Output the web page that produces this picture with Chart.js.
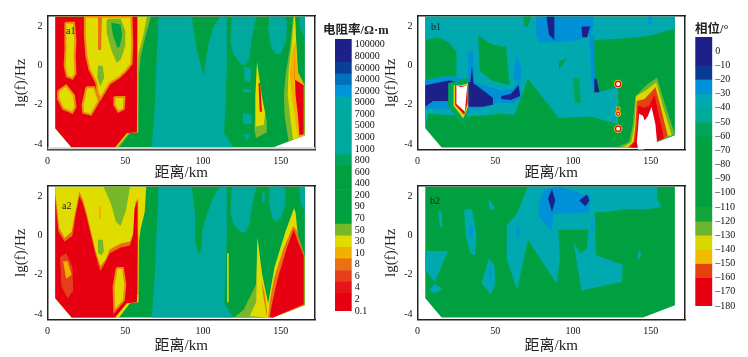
<!DOCTYPE html>
<html>
<head>
<meta charset="utf-8">
<script src="https://cdn.jsdelivr.net/npm/chart.js@4/dist/chart.umd.min.js"></script>
<style>
html, body { margin: 0; padding: 0; background: #fff; }
#page { position: relative; width: 748px; height: 357px; overflow: hidden; filter: blur(0.45px); }
canvas { position: absolute; }
.note { position: absolute; font-family: "Liberation Serif", serif; color: #222; white-space: nowrap; }
.head { font: bold 12.5px "Liberation Serif", "Noto Sans CJK SC", serif; color: #222; position: absolute; white-space: nowrap; }
</style>
</head>
<body>
<div id="page">
  <canvas id="a1"></canvas>
  <canvas id="a2"></canvas>
  <canvas id="b1"></canvas>
  <canvas id="b2"></canvas>
  <canvas id="resBar"></canvas>
  <canvas id="phaseBar"></canvas>
  <div class="head" style="left:323px;top:19px">电阻率/Ω·m</div>
  <div class="head" style="left:695px;top:18px">相位/°</div>
  <div class="note" style="left:66px;top:25px;font-size:10px">a1</div>
  <div class="note" style="left:62px;top:200px;font-size:10px">a2</div>
  <div class="note" style="left:431px;top:21px;font-size:10px">b1</div>
  <div class="note" style="left:430px;top:195px;font-size:10px">b2</div>
</div>
<script>
// colour bar labels and colours (bottom to top)
var resLabels = ['0.1', '2', '4', '6', '8', '10', '30', '50', '70', '90', '200', '400', '600', '800', '1000', '3000', '5000', '7000', '9000', '20000', '40000', '60000', '80000', '100000'];
var resColors = ['#e60012', '#e60012', '#e61416', '#e6401a', '#ea7014', '#f2b000', '#e0dc00', '#76b82a', '#00a23c', '#00a040', '#00a040', '#00a040', '#00a040', '#00a55c', '#00a99d', '#00a99d', '#00a99d', '#00a99d', '#00a9a5', '#0095d9', '#0072bc', '#0b3f95', '#1d2088', '#1d2088'];
var phaseEdges = [10, -10, -20, -30, -40, -50, -60, -110, -120, -130, -140, -150, -160, -180];
var phaseColors = ['#1d2088', '#0a3a92', '#0090d8', '#00a8b0', '#00aa9a', '#00a55a', '#00a040', '#12a63a', '#6cb430', '#d8d800', '#f0bc00', '#e64010', '#e60012'];

var blank = 'none';

// shared outline of the sounding coverage, km / lg f
var domain = [[5, 2.5], [165.5, 2.5], [165.5, -3.55], [145, -4.18], [15.5, -4.18], [11, -3.75], [5, -3.2]];

// ---- a1, resistivity
var a1Teal = [[71.4, 2.5], [92.8, 2.5], [96, 0.8], [100.3, -0.5], [103.5, 1.1], [106.8, 2], [111, 2.5], [115.3, 2.5], [115.3, 0], [114.5, -2], [113.6, -3.45], [119.6, -4.18], [67, -4.18], [69, -2], [70, 0]];
var a1Blob1 = [[118.5, 2.5], [117.5, 1.2], [119.5, 0.6], [124, 0.1], [127, 0], [130, 0.4], [131, 1.2], [132.5, 1.9], [134.5, 2.5]];
var a1Blob2 = [[142.5, 2.5], [142, 1.8], [144, 0.9], [147, 0.6], [150, 0.6], [153.5, 1.3], [154, 2.2], [152.5, 2.5]];
var a1Blob3 = [[161.7, 2.5], [165.5, 2.5], [165.5, 1.4], [163, 1.8]];
var a1Fleck1 = [[126, -0.05], [131, -0.1], [130.5, -0.8], [127, -0.8]];
var a1Fleck2 = [[125, -1.2], [131, -1.2], [130, -1.35], [126, -1.35]];
var a1Fleck3 = [[125.5, -2.4], [131, -2.5], [131.5, -2.95], [126, -3]];
var a1Fleck4 = [[126, -3.5], [130.5, -3.5], [128, -3.85]];
var a1Outer = [[5, 2.5], [66.5, 2.5], [63, 1.5], [60, 0.5], [58.8, -0.5], [58.5, -3.4], [53, -3.45], [46, -4.18], [15.5, -4.18], [11, -3.75], [5, -3.2]];
var a1Yellow = [[5, 2.5], [64, 2.5], [61.5, 1.5], [58.5, 0.6], [58, -0.5], [58, -3.4], [52, -3.45], [44.5, -4.18], [15.5, -4.18], [11, -3.75], [5, -3.2]];
var a1Red = [[5, 2.5], [57.8, 2.5], [57.5, -3.4], [51, -3.45], [43.5, -4.18], [15.5, -4.18], [11, -3.75], [5, -3.2]];
var a1Isle1 = [[11.5, 2.2], [17, 2.2], [18, 1.3], [17.5, 0.5], [18, -0.4], [16, -0.65], [12.5, -0.55], [11, 0], [11.7, 1]];
var a1Isle2 = [[24, 2.5], [54, 2.5], [54.5, 1], [54, 0.1], [50, -0.3], [46, -0.6], [40, -0.9], [37, -1.3], [34, -1.7], [32, -1.3], [31.5, -0.9], [29, -0.5], [27, -0.2], [25, 0.5], [24, 1.5]];
var a1Stripe = [[32.5, 2.5], [35, 2.5], [34.5, 1.5], [34.5, 0.8], [33, 0.8]];
var a1Light = [[38, 2.3], [39, 2.4], [47, 2.4], [50, 1.8], [50, 1], [47, 0.3], [44.5, 0.15], [41, 0.8], [38, 1.7]];
var a1Core = [[41, 2.2], [47, 2.1], [48, 1.6], [46.5, 1], [45, 0.9], [42, 1.6]];
var a1Small = [[32.5, 0], [35.5, 0], [36.5, -0.6], [34, -1.05], [32, -0.6]];
var a1Isle3 = [[6.8, -1.3], [12, -1], [17, -1.5], [18, -2.1], [16, -2.4], [10, -2.2], [7, -1.7]];
var a1Isle4 = [[25, -1.1], [30, -1.1], [33, -1.8], [28, -2.5], [23, -2.4], [22.5, -2]];
var a1Isle5 = [[43, -1.6], [49.5, -1.6], [49, -2.2], [45.5, -2.35], [43, -2]];
var a1SpikeG = [[135, -0.5], [137, -1.5], [141, -2.8], [141, -3.4], [134, -3.7], [133, -3.2]];
var a1SpikeY = [[134.7, 0.2], [133.6, -1.6], [133.8, -3.1], [139, -3.03], [140, -2.43], [137.9, -1.6]];
var a1SpikeR = [[135.7, -0.9], [136.7, -0.9], [137.9, -2.35], [136.5, -2.35]];
var a1Right1 = [[158, 2.5], [156, 1], [153, -0.5], [152, -1.5], [152.5, -2.6], [155, -3.85], [165.5, -3.55], [165.5, -1], [161, -0.3], [160, 1.2], [159, 2.5]];
var a1Right2 = [[158.5, 2.5], [157, 1], [155, -0.3], [154.5, -1.5], [156, -2.6], [158, -3.8], [165.2, -3.55], [165, -1], [161, -0.4], [160, 1], [159.2, 2.5]];
var a1Right3 = [[157.5, 0.8], [155.7, -0.3], [157, -1.5], [159, -2.6], [161, -3.7], [165, -3.55], [165, -1], [160.5, -0.3], [159.5, 1.3]];
var a1Right4 = [[158.5, 0.8], [159, -0.7], [164.7, -1], [164.7, -3.5], [162, -3.55], [161, -2.5], [159.5, -1.5]];
var a1Shapes = [domain, a1Teal, a1Blob1, a1Blob2, a1Blob3, a1Fleck1, a1Fleck2, a1Fleck3, a1Fleck4, a1Outer, a1Yellow, a1Red, a1Isle1, a1Isle2, a1Stripe, a1Light, a1Core, a1Small, a1Isle3, a1Isle4, a1Isle5, a1SpikeG, a1SpikeY, a1SpikeR, a1Right1, a1Right2, a1Right3, a1Right4];
var a1Levels = ['200', '3000', '3000', '3000', '3000', '3000', '3000', '3000', '3000', '50', '30', '2', '30', '30', '8', '50', '70', '50', '30', '30', '30', '50', '30', '2', '50', '30', '10', '2'];
// pale strip along the bottom of a1
var a1Strip = [[0, -4.17], [172, -4.17], [172, -4.28], [0, -4.28]];

// ---- a2, resistivity
var a2Teal = [[71.4, 2.5], [92.8, 2.5], [95, 1], [95, -0.3], [97, -1], [99, -0.6], [99.5, 0.3], [103, 1.2], [106.8, 2], [111, 2.5], [115.3, 2.5], [115.3, 0], [114.5, -2], [113.6, -3.45], [119.6, -4.18], [67, -4.18], [69, -2], [70, 0]];
var a2Blob1 = [[118.5, 2.5], [117.5, 1.2], [119.5, 0.6], [124, 0.2], [127, 0.15], [130, 0.6], [131, 1.2], [132.5, 1.9], [134.5, 2.5]];
var a2Blob2 = [[142.5, 2.5], [142.5, 1.6], [144.5, 0.9], [147, 0.7], [150, 0.9], [153, 1.6], [153, 2.3], [152, 2.5]];
var a2Blob3 = [[138, 2.2], [140, 2.2], [139.5, 1.7], [138.5, 1.7]];
var a2Blob4 = [[161.7, 2.5], [165.5, 2.5], [165.5, 1.2], [163, 1.6]];
var a2Outer = [[5, 2.5], [63.5, 2.5], [62.5, 1.2], [60, 0.4], [58.8, -0.3], [58.5, -3.4], [53, -3.45], [46, -4.18], [15.5, -4.18], [11, -3.75], [5, -3.2]];
var a2Fringe = [[5, 2.2], [5, -3], [58.3, -3], [58.3, 1.9], [56.5, 1.7], [55.5, 0.2], [53, -0.3], [47, -0.4], [40, -0.7], [37.5, -1.2], [34, -1.55], [31, -0.8], [28, 0.2], [25, 1.2], [22.5, 1.9], [20.5, 2.25], [17.5, 1.1], [15.5, 0.2], [11, -0.1], [7.5, 0.4], [6.5, 1.2]];
var a2Red = [[5, 2], [5, -3.2], [11, -3.75], [15.5, -4.18], [43.5, -4.18], [51, -3.45], [57.5, -3.4], [58, 0], [57.8, 1.8], [56, 1.4], [55, 0], [53, -0.5], [47, -0.6], [40, -0.9], [37, -1.4], [34, -1.8], [31, -1], [28, 0], [25, 1], [22.5, 1.7], [20.5, 2], [18, 1], [16, 0], [11, -0.3], [7, 0.2], [6, 1]];
var a2Light = [[36, 2.5], [53, 2.5], [50.5, 1.3], [47, 0.5], [44, 0.7], [41, 1.6]];
var a2Spot = [[32.8, 1.5], [34.3, 1.5], [34.5, 0.9], [33.2, 0.8]];
var a2Halo = [[32, 0.2], [36, 0.2], [38.5, -0.6], [36, -1.2], [33, -1.2], [31, -0.6]];
var a2Green = [[32.5, -0.2], [35.5, -0.2], [36.3, -0.8], [34.5, -1], [33, -0.9]];
var a2Isle1 = [[8, -1.1], [12, -0.9], [16, -1.6], [16.5, -2.8], [13, -3.2], [9, -2.6]];
var a2Isle2 = [[10, -1.3], [13, -1.3], [15.5, -2], [12, -2.2]];
var a2Isle3 = [[44.5, -1.65], [48.5, -1.65], [50, -2.5], [49, -3.3], [43, -3.85], [42.5, -2.6]];
var a2Right1 = [[158.5, 1.4], [153, 0.2], [146, -1.6], [141.5, -3.6], [141, -4.18], [145, -4.18], [165.2, -3.55], [165.2, -1], [161, 0], [159.5, 1.2]];
var a2Right2 = [[158, 0.5], [152, -0.6], [146, -2.1], [143, -3.3], [142, -4.18], [145, -4.18], [165, -3.55], [165, -1], [160, 0.3]];
var a2Right3 = [[158.3, 0.32], [154, -0.6], [148, -2.2], [144, -3.6], [143, -4.15], [145, -4.18], [164.7, -3.5], [164.7, -1], [161, -0.3]];
var a2Left1 = [[120, -4.18], [126, -3.8], [134, -2.5], [135, -0.1], [137, -1.5], [141, -3.4], [143, -4.18]];
var a2Left2 = [[130, -4.1], [134.2, -3.4], [135, -0.1], [138, -2], [142, -3.5], [143, -4.18], [140, -4.18]];
var a2Left3 = [[137.5, -2.3], [139, -3.2], [141, -4.1], [142, -4.18], [141, -3.8], [139.5, -2.9]];
var a2Thin = [[115.5, -0.9], [116.5, -0.9], [116.5, -3.4], [115.5, -3.4]];
var a2Shapes = [domain, a2Teal, a2Blob1, a2Blob2, a2Blob3, a2Blob4, a2Outer, a2Fringe, a2Red, a2Light, a2Spot, a2Halo, a2Green, a2Isle1, a2Isle2, a2Isle3, a2Left1, a2Left2, a2Left3, a2Thin, a2Right1, a2Right2, a2Right3];
var a2Levels = ['200', '3000', '3000', '3000', '3000', '3000', '30', '8', '2', '50', '10', '30', '50', '6', '10', '30', '50', '30', '8', '30', '30', '8', '2'];

// shapes that carry a thin orange fringe where they meet red
var ringed = [a1Isle1, a1Isle2, a1Isle3, a1Isle4, a1Isle5, a2Isle3];

// ---- b1, phase
var b1Teal = [[5, 2.5], [165.5, 2.5], [165.5, 1.9], [150, 1.55], [135, 1.4], [113, 1.3], [114, -1.4], [129, -1.1], [129, -3], [112, -2.6], [86, -2.7], [54, -2.45], [32.6, -2.6], [6.9, -2.45], [5, -3.2]];
var b1Green1 = [[5.5, 1.3], [13, 1.45], [20, 1.2], [25, 0.7], [25, -0.55], [15, -0.55], [5.5, -0.8]];
var b1Green2 = [[39, 1.55], [47.6, 1.1], [57, 0.95], [58, 0], [59.4, -1], [47.6, -0.75], [40, -0.25]];
var b1Green3 = [[71, -0.67], [90.5, -2.63], [64.8, -3.4], [62.6, -2.46]];
var b1Green4 = [[91, 0.2], [96, 0.4], [91, -0.2]];
var b1Green5 = [[68, 2.5], [73, 2.5], [71, 2], [69, 2]];
var b1Green6 = [[100, -0.6], [104, -0.6], [105, -1.9], [101, -1.9]];
var b1BlueTop = [[76.5, 2.5], [76, 1.6], [78, 1.2], [88, 1.2], [100, 1.25], [110, 1.5], [113, 1.9], [113, 2.5]];
var b1BlueStrip = [[110.5, 1.6], [113.5, 1.6], [114.2, -1.3], [112, -0.8]];
var b1BlueA = [[32.6, 0.7], [35.8, 0.7], [36.5, -0.75], [32.6, -0.75]];
var b1BlueB = [[64, 0.6], [67, -0.2], [66, -0.9], [62, -0.7], [62, -0.1]];
var b1BlueBand = [[5, -0.7], [20, -0.55], [33, -0.7], [42, -1], [54, -1.25], [61, -1.2], [65, -0.8], [67, -1.6], [62, -1.9], [50, -1.9], [40, -2.2], [5, -2.2]];
var b1BlueTip = [[148, 2.5], [151, 2.5], [150, 2.1], [149, 2.1]];
var b1Navy1 = [[83, 2.5], [88, 2.5], [88, 1.3], [84.5, 1.6]];
var b1Navy2 = [[105.5, 2], [111, 2], [109, 1.45], [106, 1.45]];
var b1Navy3 = [[5, -1], [20, -0.75], [30, -0.85], [34, -0.85], [35, 0], [36, -0.9], [43, -1.3], [48.5, -1.65], [48.5, -2], [42, -2.1], [33, -2.1], [19.5, -1.8], [10, -1.8], [5, -2.1]];
var b1Navy4 = [[54, -1.55], [60, -1.45], [65, -1], [66, -1.55], [60, -1.75], [54, -1.7]];
var b1Navy5 = [[113.7, -0.65], [115, -0.65], [117, -1.35], [114, -1.35]];
var b1Well = [[19.7, -0.9], [19.7, -2.1], [29, -3], [33, -2.3], [32.6, -0.6]];
var b1WellY = [[23.2, -1], [23.2, -2.05], [29.4, -2.7], [32.6, -2.1], [32.6, -0.9], [28, -1]];
var b1WellR = [[24.2, -1], [24.2, -2], [30, -2.5], [32.2, -1.9], [32.2, -1], [28, -1.05]];
var b1WellW = [[25, -1], [25, -1.95], [30.5, -2.35], [32, -1], [28, -1.1]];
var b1Hot1 = [[128, -4.18], [136, -3.9], [138.5, -3], [140, -1.6], [147, -1], [154, -0.6], [158.5, -1.8], [165.5, -3.5], [145, -4.18]];
var b1Hot2 = [[132, -4.18], [137.5, -3.9], [139.5, -3], [140.5, -1.55], [147, -1.25], [153.5, -0.85], [157.5, -2], [163.5, -3.55], [158, -3.65], [145, -4.18]];
var b1Hot3 = [[135, -4.18], [139, -3.9], [140.2, -3], [141, -1.8], [146, -1.7], [153, -1.1], [156, -2], [161, -3.6], [155, -3.8], [145, -4.18]];
var b1Hot4 = [[137, -4.18], [140, -3.8], [141.2, -3], [141.8, -2.05], [146, -2.15], [149, -2.05], [152.5, -1.5], [154.5, -2.3], [158.5, -3.7], [153, -3.9], [145, -4.18]];
var b1Hot5 = [[141, -3.9], [142, -3], [142.5, -2.45], [145, -2.55], [146, -2.8], [148, -2.6], [150.5, -2.1], [153, -3], [154, -3.9], [145, -4.3], [142, -4.3]];
var b1Shapes = [domain, b1Teal, b1Green1, b1Green2, b1Green3, b1Green4, b1Green5, b1Green6, b1BlueTop, b1BlueStrip, b1BlueA, b1BlueB, b1BlueTip, b1BlueBand, b1Navy1, b1Navy2, b1Navy3, b1Navy4, b1Navy5, b1Well, b1WellY, b1WellR, b1WellW, b1Hot1, b1Hot2, b1Hot3, b1Hot4, b1Hot5];
var b1Levels = [-70, -40, -70, -70, -70, -70, -70, -55, -30, -30, -30, -30, -30, -30, 0, 0, 0, 0, 0, -60, -140, -170, blank, -125, -135, -155, -170, blank];
// small isolated anomalies near 129 km
var spotKm = [129, 129, 129, 129];
var spotLg = [-0.93, -2.2, -2.45, -3.22];

// ---- b2, phase
var b2Teal = [[71, 2.5], [154, 2.5], [154, 1.9], [157, 1.45], [147, 1.35], [133, 1.35], [120, 1.2], [114, 1.2], [114.5, -0.5], [115, -1], [132, -1.5], [131.5, -2.35], [105.5, -2.8], [100.2, -0.3], [104.5, -0.9], [108.8, -0.64], [110, 0.3], [90.5, 0.3], [91.6, -1.15], [89.5, -2.45], [71, -0.2], [64, -2.8], [57.3, -1.15], [57.3, 0.55], [63.7, 1.1]];
var b2Blue1 = [[82, 2.4], [78, 1.7], [78, 1], [86.3, 0.2], [87.3, 1.1], [110, 1.2], [111.5, 2], [100, 2.3], [92, 2.5]];
var b2Navy1 = [[86.5, 2.4], [84, 1.9], [86.5, 1.2], [88.5, 1.8]];
var b2Navy2 = [[104, 1.8], [109, 2.1], [110.5, 1.8], [108, 1.5]];
var b2Blue2 = [[111.5, 0.7], [113, 0.7], [112.5, 0.3], [111.5, 0.3]];
var b2Blue3 = [[64.6, 0.6], [66, 0.2], [64.6, -0.2], [63.3, 0.2]];
var b2Teal1 = [[30, 1.35], [35, 1.35], [38, 0], [37, -1], [34, -0.9], [31, 0]];
var b2Blue4 = [[34.5, 0.65], [35.8, 0.2], [34.5, -0.15], [33, 0.2]];
var b2Teal2 = [[46, -1.15], [49.5, -1.5], [50, -2.5], [47, -3], [41.2, -2.4]];
var b2Blue5 = [[46.8, -1.5], [47.8, -2], [46.8, -2.4], [46, -2]];
var b2Teal3 = [[5, -0.78], [19.7, -0.78], [11, -2.36], [5, -1.75]];
var b2Teal4 = [[8, -2.7], [11, -2.45], [16, -2.7], [13, -2.9], [9, -2.9]];
var b2Teal5 = [[13.3, 1.25], [15.5, 1.25], [16, 0.5], [14.5, 0.4]];
var b2Teal6 = [[45.5, 1.85], [47.5, 1.7], [50, 1.4], [46.5, 1.3]];
var b2Teal7 = [[142.5, -0.7], [144, -1], [142, -1.25], [141.5, -1]];
var b2Shapes = [domain, b2Teal, b2Blue1, b2Navy1, b2Navy2, b2Blue2, b2Blue3, b2Teal1, b2Blue4, b2Teal2, b2Blue5, b2Teal3, b2Teal4, b2Teal5, b2Teal6, b2Teal7];
var b2Levels = [-70, -40, -30, 0, 0, -30, -30, -40, -30, -40, -30, -40, -40, -40, -40, -40];

function resColor(level) {
    return level === blank ? '#ffffff' : resColors[resLabels.indexOf(level)];
}

function phaseColor(level) {
    if (level === blank) return '#ffffff';
    for (var i = 0; i < phaseColors.length; i++) {
        if (level <= phaseEdges[i] && level >= phaseEdges[i + 1]) return phaseColors[i];
    }
}

var tickFont = { family: '"Liberation Serif", serif', size: 10 };
var titleFont = { family: '"Liberation Serif", "Noto Sans CJK SC", serif', size: 15 };

function place(id, left, top, w, h) {
    var c = document.getElementById(id);
    c.style.left = left + 'px';
    c.style.top = top + 'px';
    c.style.width = w + 'px';
    c.style.height = h + 'px';
    c.width = w;
    c.height = h;
    return c.getContext('2d');
}

function drawPanel(id, left, top, panelH, shapes, levels, colorOf, extra) {
    var datasets = shapes.map(function (shape, i) {
        var ring = ringed.indexOf(shape) >= 0;
        return {
            type: 'scatter',
            indexAxis: 'y',       // keeps the filler from clipping the closed shape on x
            order: shapes.length - i + 10,
            xAxisID: 'x',
            yAxisID: 'y',
            showLine: true,
            fill: 'shape',
            borderWidth: ring ? 2 : 0,
            borderColor: '#ee8a10',
            pointRadius: 0,
            backgroundColor: colorOf(levels[i]),
            data: shape.concat([shape[0]]).map(function (p) { return { x: p[0], y: p[1] }; })
        };
    });
    new Chart(place(id, left, top, 320, panelH), {
        type: 'scatter',
        data: { datasets: datasets.concat(extra || []) },
        options: {
            animation: false,
            responsive: false,
            layout: { padding: { left: 12, right: 5, top: 16, bottom: 0 } },
            plugins: { legend: { display: false }, tooltip: { enabled: false } },
            scales: {
                x: {
                    type: 'linear', min: 0, max: 172,
                    grid: { display: false, drawTicks: true, tickLength: 3, tickColor: '#222' },
                    border: { color: '#222', width: 1.5 },
                    ticks: { stepSize: 50, includeBounds: false, maxRotation: 0, color: '#111', font: tickFont, padding: 3 },
                    title: { display: true, text: '距离/km', color: '#222', font: titleFont, padding: { top: 0, bottom: 0 } },
                    afterFit: function (s) { s.height = panelH - 149.5; }
                },
                y: {
                    type: 'linear', min: -4.28, max: 2.54,
                    grid: { display: false, tickLength: 3, tickColor: '#222' },
                    border: { color: '#222', width: 1.5 },
                    ticks: { stepSize: 2, includeBounds: false, color: '#111', font: tickFont, padding: 2 },
                    title: { display: true, text: 'lg(f)/Hz', color: '#222', font: titleFont, padding: { top: 0, bottom: 0 } },
                    afterFit: function (s) { s.width = 35.5; }
                },
                xTop: {
                    type: 'linear', position: 'top',
                    grid: { display: false, drawTicks: false },
                    border: { color: '#222', width: 1.5 },
                    ticks: { display: false },
                    afterFit: function (s) { s.height = 0; }
                },
                yRight: {
                    type: 'linear', position: 'right',
                    grid: { display: false, drawTicks: false },
                    border: { color: '#222', width: 1.5 },
                    ticks: { display: false },
                    afterFit: function (s) { s.width = 0; }
                }
            }
        }
    });
}

function spotSet(color, radius, order) {
    return {
        type: 'scatter', order: order, xAxisID: 'x', yAxisID: 'y',
        pointRadius: radius, pointBorderWidth: 0, backgroundColor: color,
        data: spotKm.map(function (km, i) { return { x: km, y: spotLg[i] }; })
    };
}

drawPanel('a1', 0, 0, 182, a1Shapes, a1Levels, resColor, [{
    type: 'scatter', indexAxis: 'y', order: 1, xAxisID: 'x', yAxisID: 'y', showLine: true, fill: 'shape',
    borderWidth: 0, pointRadius: 0, backgroundColor: '#d4d6d4',
    data: a1Strip.map(function (p) { return { x: p[0], y: p[1] }; })
}]);
drawPanel('a2', 0, 170.3, 185, a2Shapes, a2Levels, resColor);
drawPanel('b1', 370.2, 0, 182, b1Shapes, b1Levels, phaseColor, [
    spotSet('#e8c000', [4.2, 2.5, 3, 4.2], 3),
    spotSet('#e60012', [3.2, 1.6, 2, 3.2], 2),
    spotSet('#ffffff', [2, 0.6, 1, 2], 1)
]);
drawPanel('b2', 370.2, 170.3, 185, b2Shapes, b2Levels, phaseColor);

// colour bars
function drawBar(id, left, top, w, h, areaLeft, barW, areaTop, min, max, step, bars, colors, tickText) {
    new Chart(place(id, left, top, w, h), {
        type: 'bar',
        data: {
            labels: [''],
            datasets: bars.map(function (b, i) {
                return { data: [b], backgroundColor: colors[i], barPercentage: 1, categoryPercentage: 1, grouped: false };
            })
        },
        options: {
            animation: false,
            responsive: false,
            layout: { padding: { left: areaLeft, top: areaTop, bottom: 4, right: 0 } },
            plugins: { legend: { display: false }, tooltip: { enabled: false } },
            scales: {
                x: { display: false },
                y: {
                    position: 'right', min: min, max: max,
                    grid: { display: false, drawTicks: false },
                    border: { display: false },
                    ticks: { stepSize: step, includeBounds: false, color: '#111', font: tickFont, padding: 3, callback: tickText, autoSkip: false },
                    afterFit: function (s) { s.width = w - areaLeft - barW; }
                }
            }
        }
    });
}

drawBar('resBar', 330, 30, 60, 290, 5, 16.7, 8.3, 0, 23.5, 1,
    resLabels.map(function (t, i) { return [Math.max(i - 0.5, 0), i + 0.5]; }),
    resColors,
    function (v) { return resLabels[v]; });

drawBar('phaseBar', 690, 28, 58, 287, 5.3, 17, 6, -180, 10, 10,
    phaseColors.map(function (c, i) { return [phaseEdges[i + 1], phaseEdges[i]]; }),
    phaseColors,
    function (v) { return v === 10 ? '' : String(v).replace('-', '–'); });
</script>
</body>
</html>
